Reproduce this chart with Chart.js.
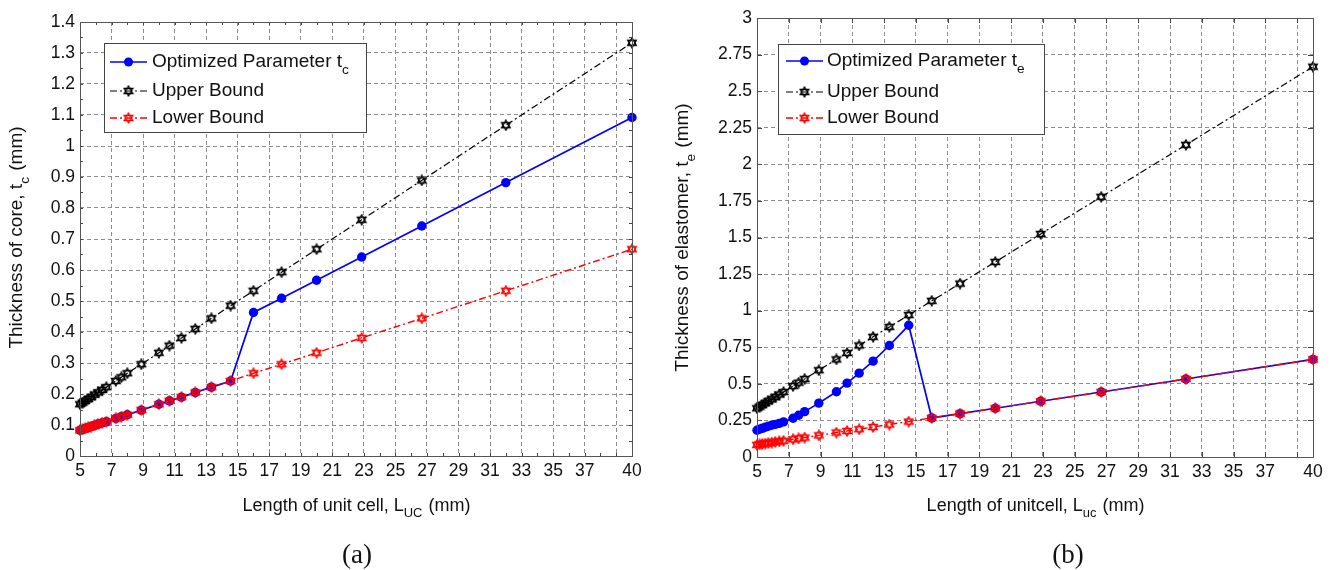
<!DOCTYPE html>
<html>
<head>
<meta charset="utf-8">
<script src="https://cdn.jsdelivr.net/npm/chart.js@4.4.0/dist/chart.umd.min.js"></script>
<style>
  html, body { margin: 0; padding: 0; background: #fff; }
  #wrap { position: relative; width: 1338px; height: 570px; }
  .panel { position: absolute; top: 0; width: 669px; height: 570px; }
</style>
</head>
<body>
<div id="wrap">
  <div class="panel" style="left:0"><canvas id="chartA" width="669" height="570"></canvas></div>
  <div class="panel" style="left:669px"><canvas id="chartB" width="669" height="570"></canvas></div>
</div>
<script>
// unit cell lengths (mm), shared by both panels
const lengthUC = [5, 5.16, 5.33, 5.52, 5.71, 5.93, 6.15, 6.4, 6.67, 7.27, 7.62, 8, 8.89, 10,
                  10.67, 11.43, 12.31, 13.33, 14.55, 16, 17.78, 20, 22.86, 26.67, 32, 40];

// (a) thickness of core t_c (mm)
const coreOptimized = [0.083, 0.086, 0.089, 0.092, 0.095, 0.099, 0.103, 0.107, 0.111, 0.121, 0.127, 0.133, 0.148, 0.167,
                       0.178, 0.19, 0.205, 0.222, 0.242, 0.463, 0.509, 0.567, 0.642, 0.742, 0.882, 1.092];
const coreUpper = [0.167, 0.172, 0.178, 0.184, 0.19, 0.198, 0.205, 0.213, 0.222, 0.242, 0.254, 0.267, 0.296, 0.333,
                   0.356, 0.381, 0.41, 0.444, 0.485, 0.533, 0.593, 0.667, 0.762, 0.889, 1.067, 1.333];
const coreLower = [0.083, 0.086, 0.089, 0.092, 0.095, 0.099, 0.103, 0.107, 0.111, 0.121, 0.127, 0.133, 0.148, 0.167,
                   0.178, 0.19, 0.205, 0.222, 0.242, 0.267, 0.296, 0.333, 0.381, 0.444, 0.533, 0.667];

// (b) thickness of elastomer t_e (mm)
const elastOptimized = [0.183, 0.19, 0.196, 0.203, 0.21, 0.217, 0.223, 0.23, 0.24, 0.265, 0.285, 0.31, 0.368, 0.446,
                        0.505, 0.573, 0.655, 0.762, 0.9, 0.267, 0.296, 0.333, 0.381, 0.444, 0.533, 0.667];
const elastUpper = [0.333, 0.344, 0.356, 0.368, 0.381, 0.395, 0.41, 0.427, 0.444, 0.485, 0.508, 0.533, 0.593, 0.667,
                    0.711, 0.762, 0.821, 0.889, 0.97, 1.067, 1.185, 1.333, 1.524, 1.778, 2.133, 2.667];
const elastLower = [0.083, 0.086, 0.089, 0.092, 0.095, 0.099, 0.103, 0.107, 0.111, 0.121, 0.127, 0.133, 0.148, 0.167,
                    0.178, 0.19, 0.205, 0.222, 0.242, 0.267, 0.296, 0.333, 0.381, 0.444, 0.533, 0.667];

// tick values
const xTicks = [5, 7, 9, 11, 13, 15, 17, 19, 21, 23, 25, 27, 29, 31, 33, 35, 37, 39, 40];
const xTickLabels = ['5', '7', '9', '11', '13', '15', '17', '19', '21', '23', '25', '27', '29', '31', '33', '35', '37', '', '40'];
const coreTicks = [0, 0.1, 0.2, 0.3, 0.4, 0.5, 0.6, 0.7, 0.8, 0.9, 1, 1.1, 1.2, 1.3, 1.4];
const elastTicks = [0, 0.25, 0.5, 0.75, 1, 1.25, 1.5, 1.75, 2, 2.25, 2.5, 2.75, 3];

const FONT = "'Liberation Sans', Arial, sans-serif";
const DASHDOT = [7, 3, 2, 3];

// open six-pointed star marker (MATLAB 'hexagram')
function hexagram(color) {
  const c = document.createElement('canvas');
  c.width = 12; c.height = 12;
  const g = c.getContext('2d');
  g.strokeStyle = color;
  g.lineWidth = 1.3;
  [-90, 90].forEach(a0 => {
    g.beginPath();
    for (let k = 0; k < 3; k++) {
      const a = (a0 + k * 120) * Math.PI / 180;
      const px = 6 + 5 * Math.cos(a), py = 6 + 5 * Math.sin(a);
      if (k) g.lineTo(px, py); else g.moveTo(px, py);
    }
    g.closePath();
    g.stroke();
  });
  return c;
}
const hexBlack = hexagram('#000');
const hexRed = hexagram('#ff0000');

function richWidth(ctx, parts, size) {
  let w = 0;
  parts.forEach(p => {
    ctx.font = (p.sub ? size * 0.72 : size) + 'px ' + FONT;
    w += ctx.measureText(p.t).width;
  });
  return w;
}

// text with subscripts, x = left edge, y = middle
function drawRich(ctx, parts, x, y, size) {
  ctx.textBaseline = 'middle';
  ctx.textAlign = 'left';
  parts.forEach(p => {
    const s = p.sub ? size * 0.72 : size;
    ctx.font = s + 'px ' + FONT;
    ctx.fillText(p.t, x, p.sub ? y + size * 0.42 : y);
    x += ctx.measureText(p.t).width + (p.sub ? 1 : 0);
  });
}

const framePlugin = {
  id: 'frame',
  afterDraw(chart, args, o) {
    const { ctx, chartArea: a, scales: { x, y } } = chart;
    ctx.save();

    // tick marks (inward, both sides)
    ctx.strokeStyle = '#444';
    ctx.lineWidth = 1;
    ctx.beginPath();
    for (let v = o.xMin; v <= o.xMax + 1e-9; v += o.xStep) {
      const px = Math.round(x.getPixelForValue(v)) + 0.5;
      ctx.moveTo(px, a.bottom); ctx.lineTo(px, a.bottom - o.tickLen);
      ctx.moveTo(px, a.top); ctx.lineTo(px, a.top + o.tickLen);
    }
    for (let v = o.yMin; v <= o.yMax + 1e-9; v += o.yStep) {
      const py = Math.round(y.getPixelForValue(v)) + 0.5;
      ctx.moveTo(a.left, py); ctx.lineTo(a.left + o.tickLen, py);
      ctx.moveTo(a.right, py); ctx.lineTo(a.right - o.tickLen, py);
    }
    ctx.stroke();

    // box
    ctx.strokeStyle = '#555';
    ctx.strokeRect(Math.round(a.left) + 0.5, Math.round(a.top) + 0.5,
                   Math.round(a.right - a.left), Math.round(a.bottom - a.top));

    // axis titles
    ctx.fillStyle = '#111';
    const wx = richWidth(ctx, o.xTitle, 18);
    drawRich(ctx, o.xTitle, o.xTitlePos[0] - wx / 2, o.xTitlePos[1], 18);

    ctx.save();
    ctx.translate(o.yTitlePos[0], o.yTitlePos[1]);
    ctx.rotate(-Math.PI / 2);
    const wy = richWidth(ctx, o.yTitle, 19);
    drawRich(ctx, o.yTitle, -wy / 2, 0, 19);
    ctx.restore();

    // panel label
    ctx.font = '27px "Liberation Serif", "Times New Roman", serif';
    ctx.textAlign = 'center';
    ctx.textBaseline = 'middle';
    ctx.fillText(o.panel, o.panelPos[0], o.panelPos[1]);

    // legend box
    const L = o.legend;
    ctx.fillStyle = '#fff';
    ctx.fillRect(L.box[0], L.box[1], L.box[2] - L.box[0], L.box[3] - L.box[1]);
    ctx.strokeStyle = '#444';
    ctx.lineWidth = 1;
    ctx.strokeRect(L.box[0] + 0.5, L.box[1] + 0.5, L.box[2] - L.box[0], L.box[3] - L.box[1]);
    L.rows.forEach((r, i) => {
      const yy = L.rowY[i];
      ctx.save();
      ctx.strokeStyle = r.color;
      ctx.lineWidth = r.width;
      ctx.setLineDash(r.dash);
      ctx.beginPath();
      ctx.moveTo(L.lineX[0], yy); ctx.lineTo(L.lineX[1], yy);
      ctx.stroke();
      ctx.restore();
      const mx = (L.lineX[0] + L.lineX[1]) / 2;
      if (r.marker === 'dot') {
        ctx.fillStyle = r.color;
        ctx.beginPath(); ctx.arc(mx, yy, 4.5, 0, Math.PI * 2); ctx.fill();
      } else {
        ctx.drawImage(r.marker, mx - 6, yy - 6);
      }
      ctx.fillStyle = '#111';
      drawRich(ctx, r.text, L.textX, yy, 19);
    });

    ctx.restore();
  }
};

function pts(ys) {
  return lengthUC.map((x, i) => ({ x: x, y: ys[i] }));
}

function makeChart(id, cfg) {
  const tickFont = { family: FONT, size: 17.5 };
  return new Chart(document.getElementById(id), {
    type: 'line',
    data: {
      datasets: [{
        label: 'Optimized Parameter',
        data: pts(cfg.opt),
        borderColor: '#0000ff',
        backgroundColor: '#0000ff',
        borderWidth: 1.7,
        pointRadius: 4.7,
        pointBorderWidth: 0,
        tension: 0,
        clip: false,
        order: 2
      }, {
        label: 'Upper Bound',
        data: pts(cfg.upper),
        borderColor: '#000',
        borderWidth: 1.2,
        borderDash: DASHDOT,
        pointStyle: hexBlack,
        pointRadius: 4,
        tension: 0,
        clip: false,
        order: 1
      }, {
        label: 'Lower Bound',
        data: pts(cfg.lower),
        borderColor: '#ff0000',
        borderWidth: 1.4,
        borderDash: DASHDOT,
        pointStyle: hexRed,
        pointRadius: 4,
        tension: 0,
        clip: false,
        order: 0
      }]
    },
    options: {
      responsive: false,
      animation: false,
      layout: { padding: cfg.padding },
      scales: {
        x: {
          type: 'linear', min: 5, max: 40,
          afterBuildTicks: s => { s.ticks = xTicks.map(v => ({ value: v })); },
          afterFit: s => { s.height = cfg.xAxisH; },
          ticks: {
            callback: (v, i) => xTickLabels[i],
            font: tickFont, color: '#111', padding: 5,
            maxRotation: 0, autoSkip: false
          },
          grid: { color: '#8c8c8c', lineWidth: 1, drawTicks: false },
          border: { display: false, dash: [4, 3] }
        },
        y: {
          type: 'linear', min: 0, max: cfg.yMax,
          afterBuildTicks: s => { s.ticks = cfg.yTicks.map(v => ({ value: v })); },
          afterFit: s => { s.width = cfg.yAxisW; },
          ticks: {
            callback: v => String(+v.toFixed(2)),
            font: tickFont, color: '#111', padding: 5
          },
          grid: { color: '#8c8c8c', lineWidth: 1, drawTicks: false },
          border: { display: false, dash: [4, 3] }
        }
      },
      plugins: {
        legend: { display: false },
        tooltip: { enabled: false },
        frame: cfg.frame
      }
    },
    plugins: [framePlugin]
  });
}

makeChart('chartA', {
  opt: coreOptimized, upper: coreUpper, lower: coreLower,
  yMax: 1.4, yTicks: coreTicks,
  padding: { left: 0, right: 37, top: 22, bottom: 0 },
  xAxisH: 114, yAxisW: 80,
  frame: {
    xMin: 5, xMax: 40, xStep: 1, yMin: 0, yMax: 1.4, yStep: 0.05, tickLen: 3,
    xTitle: [{ t: 'Length of unit cell, L' }, { t: 'UC', sub: true }, { t: ' (mm)' }],
    xTitlePos: [356, 506],
    yTitle: [{ t: 'Thickness of core, t' }, { t: 'c', sub: true }, { t: ' (mm)' }],
    yTitlePos: [17, 238],
    panel: '(a)', panelPos: [357, 556],
    legend: {
      box: [104, 43, 366, 132],
      lineX: [110, 147], textX: 152, rowY: [62, 91, 118],
      rows: [
        { color: '#0000ff', width: 1.7, dash: [], marker: 'dot',
          text: [{ t: 'Optimized Parameter t' }, { t: 'c', sub: true }] },
        { color: '#000', width: 1.2, dash: DASHDOT, marker: hexBlack, text: [{ t: 'Upper Bound' }] },
        { color: '#ff0000', width: 1.4, dash: DASHDOT, marker: hexRed, text: [{ t: 'Lower Bound' }] }
      ]
    }
  }
});

makeChart('chartB', {
  opt: elastOptimized, upper: elastUpper, lower: elastLower,
  yMax: 3, yTicks: elastTicks,
  padding: { left: 0, right: 25, top: 18, bottom: 0 },
  xAxisH: 113, yAxisW: 88,
  frame: {
    xMin: 5, xMax: 40, xStep: 2, yMin: 0, yMax: 3, yStep: 0.25, tickLen: 5,
    xTitle: [{ t: 'Length of unitcell, L' }, { t: 'uc', sub: true }, { t: ' (mm)' }],
    xTitlePos: [366, 506],
    yTitle: [{ t: 'Thickness of elastomer, t' }, { t: 'e', sub: true }, { t: ' (mm)' }],
    yTitlePos: [14, 238],
    panel: '(b)', panelPos: [399, 556],
    legend: {
      box: [109, 44, 375, 134],
      lineX: [117, 154], textX: 158, rowY: [61, 92, 118],
      rows: [
        { color: '#0000ff', width: 1.7, dash: [], marker: 'dot',
          text: [{ t: 'Optimized Parameter t' }, { t: 'e', sub: true }] },
        { color: '#000', width: 1.2, dash: DASHDOT, marker: hexBlack, text: [{ t: 'Upper Bound' }] },
        { color: '#ff0000', width: 1.4, dash: DASHDOT, marker: hexRed, text: [{ t: 'Lower Bound' }] }
      ]
    }
  }
});
</script>
</body>
</html>
